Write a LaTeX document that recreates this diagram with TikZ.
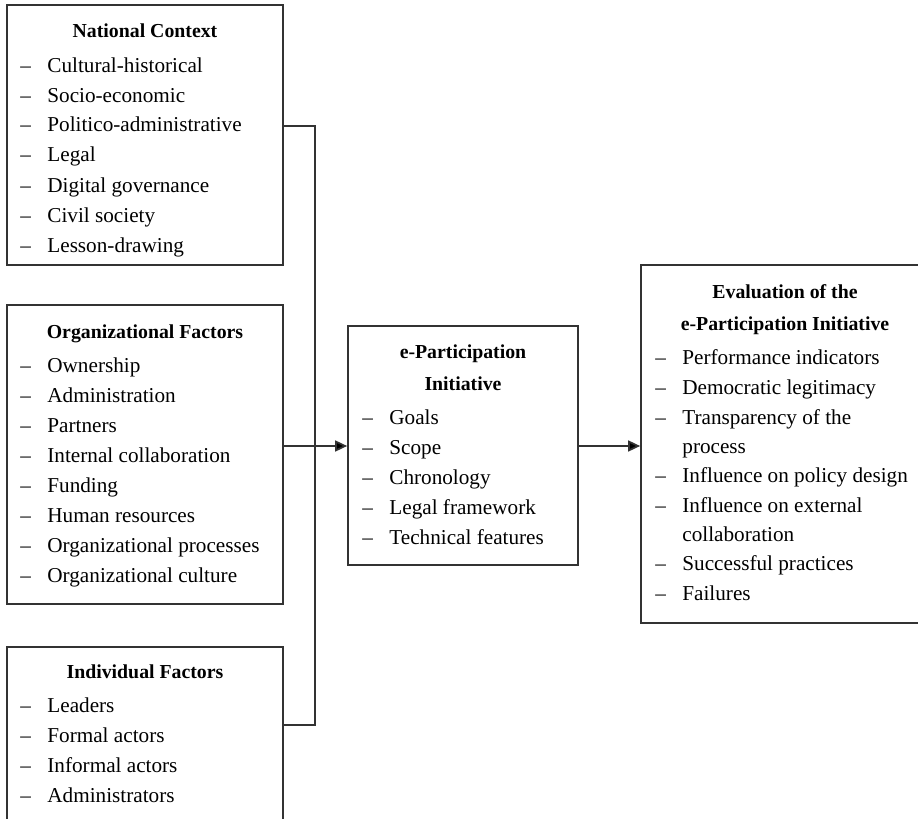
\documentclass[tikz,border=0pt]{standalone}
\usepackage{fontspec}
\setmainfont{Liberation Serif}
\usetikzlibrary{arrows.meta}

% list entry: dash, then the text in a fixed column
\newcommand\entry[4]{\node[itemtext] (#1) at (#2,#3) {\makebox[13.5pt][l]{--}#4};}
% continuation line of a list entry
\newcommand\contline[4]{\node[itemtext] (#1) at (#2,#3) {\hspace*{13.5pt}#4};}

\begin{document}
\begin{tikzpicture}[x=0.5pt,y=-0.5pt,
  box/.style={draw=black!80, line width=0.85pt, inner sep=0pt},
  head/.style={font=\fontsize{9.9}{12}\selectfont\bfseries, anchor=base, inner sep=0pt},
  itemtext/.style={font=\fontsize{10.6}{12}\selectfont, anchor=base west, inner sep=0pt},
  link/.style={draw=black!80, line width=0.85pt},
  arr/.style={link, -{Triangle[length=6pt,width=5.5pt,fill=black]}}]

\useasboundingbox (0,0) rectangle (918,819);
\clip (0,0) rectangle (918,819);

% ---- boxes ----
\node[box, minimum width=138pt, minimum height=130pt]   (nat)  at (145,135)   {};
\node[box, minimum width=138pt, minimum height=149.5pt] (org)  at (145,454.5) {};
\node[box, minimum width=138pt, minimum height=91.5pt]  (ind)  at (145,738.5) {};
\node[box, minimum width=115pt, minimum height=119.5pt] (ini)  at (463,445.5) {};
\node[box, minimum width=143pt, minimum height=179pt]   (eval) at (784,444)   {};

% ---- National Context ----
\node[head] (natH) at (145,38) {National Context};
\entry{n1}{20}{72}{Cultural-historical}
\entry{n2}{20}{102}{Socio-economic}
\entry{n3}{20}{132}{Politico-administrative}
\entry{n4}{20}{162}{Legal}
\entry{n5}{20}{192}{Digital governance}
\entry{n6}{20}{222}{Civil society}
\entry{n7}{20}{252}{Lesson-drawing}

% ---- Organizational Factors ----
\node[head] (orgH) at (145,338) {Organizational Factors};
\entry{o1}{20}{372}{Ownership}
\entry{o2}{20}{402}{Administration}
\entry{o3}{20}{432}{Partners}
\entry{o4}{20}{462}{Internal collaboration}
\entry{o5}{20}{492}{Funding}
\entry{o6}{20}{522}{Human resources}
\entry{o7}{20}{552}{Organizational processes}
\entry{o8}{20}{582}{Organizational culture}

% ---- Individual Factors ----
\node[head] (indH) at (145,678) {Individual Factors};
\entry{i1}{20}{712}{Leaders}
\entry{i2}{20}{742}{Formal actors}
\entry{i3}{20}{772}{Informal actors}
\entry{i4}{20}{802}{Administrators}

% ---- e-Participation Initiative ----
\node[head] (iniH1) at (463,358) {e-Participation};
\node[head] (iniH2) at (463,390) {Initiative};
\entry{p1}{362}{424}{Goals}
\entry{p2}{362}{454}{Scope}
\entry{p3}{362}{484}{Chronology}
\entry{p4}{362}{514}{Legal framework}
\entry{p5}{362}{544}{Technical features}

% ---- Evaluation ----
\node[head] (evH1) at (785,298) {Evaluation of the};
\node[head] (evH2) at (785,330) {e-Participation Initiative};
\entry{e1}{655}{364}{Performance indicators}
\entry{e2}{655}{394}{Democratic legitimacy}
\entry{e3}{655}{424}{Transparency of the}
\contline{e3b}{655}{453}{process}
\entry{e4}{655}{482}{Influence on policy design}
\entry{e5}{655}{512}{Influence on external}
\contline{e5b}{655}{541}{collaboration}
\entry{e6}{655}{570}{Successful practices}
\entry{e7}{655}{600}{Failures}

% ---- connectors ----
\coordinate (jTop) at (315,126);
\coordinate (jMid) at (315,446);
\coordinate (jBot) at (315,725);
\draw[link] (nat.east |- jTop) -- (jTop) -- (jBot) -- (ind.east |- jBot);
\draw[arr] (org.east |- jMid) -- (ini.west |- jMid);
\draw[arr] (ini.east |- jMid) -- (eval.west |- jMid);
\end{tikzpicture}
\end{document}
